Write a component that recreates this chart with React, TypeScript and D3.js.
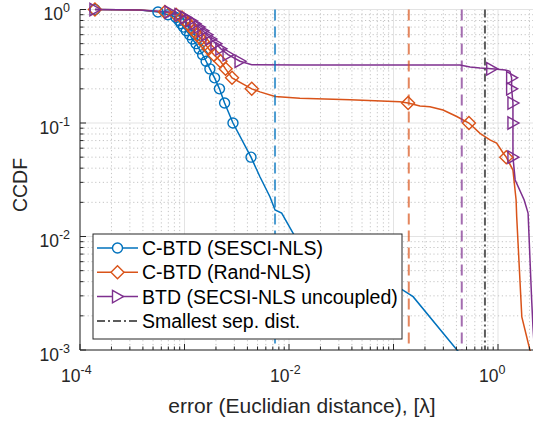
import React from "react";
import * as d3 from "d3";

// ---- data (x = error [lambda], y = CCDF) ----
const blueLine: [number, number][] = [
  [1.39e-4, 1], [3.75e-4, 0.99], [5.57e-4, 0.95], [6.95e-4, 0.9], [8.3e-4, 0.85],
  [8.86e-4, 0.8], [9.27e-4, 0.75], [9.77e-4, 0.7], [1.04e-3, 0.65], [1.12e-3, 0.6],
  [1.19e-3, 0.55], [1.29e-3, 0.5], [1.38e-3, 0.45], [1.49e-3, 0.4], [1.61e-3, 0.35],
  [1.75e-3, 0.3], [1.94e-3, 0.25], [2.16e-3, 0.2], [2.42e-3, 0.15], [2.91e-3, 0.1],
  [4.33e-3, 0.05], [5.27e-3, 0.0336], [6.57e-3, 0.0224], [7.35e-3, 0.0171],
  [8.51e-3, 0.0161], [0.0102, 0.012], [0.0127, 0.0084], [0.0247, 0.006],
  [0.0596, 0.0043], [0.121, 0.0034], [0.154, 0.00295], [0.405, 0.001], [0.45, 0.0009],
];
const blueMarks: [number, number][] = [
  [1.39e-4, 1], [5.57e-4, 0.95], [6.95e-4, 0.9], [8.3e-4, 0.85], [8.86e-4, 0.8],
  [9.27e-4, 0.75], [9.77e-4, 0.7], [1.04e-3, 0.65], [1.12e-3, 0.6], [1.19e-3, 0.55],
  [1.29e-3, 0.5], [1.38e-3, 0.45], [1.49e-3, 0.4], [1.61e-3, 0.35], [1.75e-3, 0.3],
  [1.94e-3, 0.25], [2.16e-3, 0.2], [2.42e-3, 0.15], [2.91e-3, 0.1], [4.33e-3, 0.05],
];

const orangeLine: [number, number][] = [
  [1.39e-4, 1], [3.75e-4, 0.99], [6.5e-4, 0.95], [8.3e-4, 0.9], [9.47e-4, 0.85],
  [1.02e-3, 0.8], [1.08e-3, 0.75], [1.15e-3, 0.7], [1.23e-3, 0.65], [1.33e-3, 0.6],
  [1.44e-3, 0.55], [1.57e-3, 0.5], [1.7e-3, 0.45], [1.91e-3, 0.4], [2.21e-3, 0.35],
  [2.47e-3, 0.3], [2.85e-3, 0.25], [4.4e-3, 0.2], [5.27e-3, 0.188], [7.35e-3, 0.171],
  [0.0127, 0.165], [0.0384, 0.16], [0.115, 0.154], [0.138, 0.15], [0.179, 0.141],
  [0.223, 0.139], [0.298, 0.13], [0.403, 0.114], [0.527, 0.1], [0.673, 0.081],
  [0.837, 0.071], [0.97, 0.0666], [1.12, 0.0544], [1.2, 0.05], [1.39, 0.0385],
  [1.49, 0.021], [1.51, 0.0149], [1.69, 0.00196], [2.02, 0.001], [2.1, 0.0009],
];
const orangeMarks: [number, number][] = [
  [1.39e-4, 1], [6.5e-4, 0.95], [8.3e-4, 0.9], [9.47e-4, 0.85], [1.02e-3, 0.8],
  [1.08e-3, 0.75], [1.15e-3, 0.7], [1.23e-3, 0.65], [1.33e-3, 0.6], [1.44e-3, 0.55],
  [1.57e-3, 0.5], [1.7e-3, 0.45], [1.91e-3, 0.4], [2.21e-3, 0.35], [2.47e-3, 0.3],
  [2.85e-3, 0.25], [4.4e-3, 0.2], [0.138, 0.15], [0.527, 0.1], [1.2, 0.05],
];

const purpleLine: [number, number][] = [
  [1.39e-4, 1], [3.75e-4, 0.99], [7.26e-4, 0.95], [9.05e-4, 0.9], [1.03e-3, 0.85],
  [1.15e-3, 0.8], [1.26e-3, 0.75], [1.38e-3, 0.7], [1.5e-3, 0.65], [1.64e-3, 0.6],
  [1.79e-3, 0.55], [2e-3, 0.5], [2.23e-3, 0.45], [2.61e-3, 0.4], [3.4e-3, 0.35],
  [4.4e-3, 0.326], [0.0127, 0.324], [0.433, 0.324], [0.54, 0.311], [0.673, 0.305],
  [0.871, 0.3], [1.17, 0.293], [1.3, 0.285], [1.35, 0.25], [1.35, 0.2], [1.39, 0.15],
  [1.39, 0.1], [1.39, 0.05], [1.46, 0.0315], [1.78, 0.021], [1.94, 0.0161],
  [2.1, 0.00276], [2.16, 0.0016], [2.25, 0.0009],
];
const purpleMarks: [number, number][] = [
  [1.39e-4, 1], [7.26e-4, 0.95], [9.05e-4, 0.9], [1.03e-3, 0.85], [1.15e-3, 0.8],
  [1.26e-3, 0.75], [1.38e-3, 0.7], [1.5e-3, 0.65], [1.64e-3, 0.6], [1.79e-3, 0.55],
  [2e-3, 0.5], [2.23e-3, 0.45], [2.61e-3, 0.4], [3.4e-3, 0.35], [0.871, 0.3],
  [1.35, 0.25], [1.35, 0.2], [1.39, 0.15], [1.39, 0.1], [1.39, 0.05],
];

// dashed verticals: 1e-3 CCDF crossing per method, and the smallest separation
const vlineX = [7.35e-3, 0.14, 0.45];
const vlineColor = ["#0072BD", "#D95319", "#7E2F8E"];
const smallestSep = 0.75;

const legendLabels = [
  "C-BTD (SESCI-NLS)",
  "C-BTD (Rand-NLS)",
  "BTD (SECSI-NLS uncoupled)",
  "Smallest sep. dist.",
];
const xTickExp = [-4, -2, 0];
const yTickExp = [-3, -2, -1, 0];

const FONT = "'Liberation Sans', Arial, Helvetica, sans-serif";
const INK = "#262626";

const circlePath = "M5,0A5,5 0 1,1 -5,0A5,5 0 1,1 5,0Z";
const diamondPath = "M0,-6.5L6.5,0L0,6.5L-6.5,0Z";
const trianglePath = "M-5,-6.2L6,0L-5,6.2Z";

const App = () => {
  const W = 533;
  const H = 423;
  const left = 80;
  const bottom = 350;

  const x = d3.scaleLog().domain([1e-4, Math.pow(10, 0.4)]).range([left, 539.8]);
  const y = d3.scaleLog().domain([1e-3, 1]).range([bottom, 9.5]);

  const isMajor = (v: number) => Math.abs(Math.log10(v) - Math.round(Math.log10(v))) < 1e-9;
  const xt = x.ticks();
  const yt = y.ticks();

  const line = d3
    .line<[number, number]>()
    .x((d) => x(d[0]))
    .y((d) => y(d[1]));

  const series = [
    { line: blueLine, marks: blueMarks, color: "#0072BD", shape: circlePath },
    { line: orangeLine, marks: orangeMarks, color: "#D95319", shape: diamondPath },
    { line: purpleLine, marks: purpleMarks, color: "#7E2F8E", shape: trianglePath },
  ];

  const lg = { x: 93, y: 234, w: 309, h: 105, row: 24.3 };

  return (
    <svg
      width={W}
      height={H}
      style={{ position: "absolute", left: 0, top: 0, background: "#fff" }}
      fontFamily={FONT}
    >
      <defs>
        <clipPath id="plotclip">
          <rect x={left} y={5} width={470} height={bottom - 5 + 1} />
        </clipPath>
      </defs>

      {/* grid */}
      <g>
        {xt.map((v, i) => (
          <line
            key={"gx" + i}
            x1={x(v)} x2={x(v)} y1={9.5} y2={bottom}
            stroke={isMajor(v) ? "#e3e3e3" : "#c4c4c4"}
            strokeWidth={1}
            strokeDasharray={isMajor(v) ? undefined : "1.2,2.6"}
          />
        ))}
        {yt.map((v, i) => (
          <line
            key={"gy" + i}
            x1={left} x2={W} y1={y(v)} y2={y(v)}
            stroke={isMajor(v) ? "#e3e3e3" : "#c4c4c4"}
            strokeWidth={1}
            strokeDasharray={isMajor(v) ? undefined : "1.2,2.6"}
          />
        ))}
      </g>

      {/* curves */}
      <g clipPath="url(#plotclip)">
        {series.map((s, i) => (
          <path key={"l" + i} d={line(s.line) || ""} fill="none" stroke={s.color} strokeWidth={1.5} />
        ))}
      </g>
      {series.map((s, i) => (
        <g key={"m" + i}>
          {s.marks.map((d, j) => (
            <path
              key={j}
              d={s.shape}
              transform={`translate(${x(d[0])},${y(d[1])})`}
              fill="none"
              stroke={s.color}
              strokeWidth={1.4}
            />
          ))}
        </g>
      ))}

      {/* vertical reference lines */}
      {vlineX.map((v, i) => (
        <line
          key={"v" + i}
          x1={x(v)} x2={x(v)} y1={9.5} y2={bottom}
          stroke={vlineColor[i]}
          strokeOpacity={0.7}
          strokeWidth={2}
          strokeDasharray="11,6"
        />
      ))}
      <line
        x1={x(smallestSep)} x2={x(smallestSep)} y1={9.5} y2={bottom}
        stroke="#404040"
        strokeOpacity={0.85}
        strokeWidth={2}
        strokeDasharray="8,3,2,3"
      />

      {/* axes */}
      <line x1={left} x2={left} y1={9.5} y2={bottom} stroke={INK} strokeWidth={1} />
      <line x1={left} x2={W} y1={bottom} y2={bottom} stroke={INK} strokeWidth={1} />
      {xt.map((v, i) => (
        <line
          key={"tx" + i}
          x1={x(v)} x2={x(v)} y1={bottom} y2={bottom - (isMajor(v) ? 6 : 3.5)}
          stroke={INK} strokeWidth={1}
        />
      ))}
      {yt.map((v, i) => (
        <line
          key={"ty" + i}
          x1={left} x2={left + (isMajor(v) ? 6 : 3.5)} y1={y(v)} y2={y(v)}
          stroke={INK} strokeWidth={1}
        />
      ))}

      {/* tick labels */}
      {xTickExp.map((e) => {
        const px = x(Math.pow(10, e));
        return (
          <g key={"xl" + e} fill={INK}>
            <text x={px + 0.5} y={382} fontSize={17.5} textAnchor="end">10</text>
            <text x={px + 0.5} y={374} fontSize={12.5}>{e}</text>
          </g>
        );
      })}
      {yTickExp.map((e) => {
        const py = y(Math.pow(10, e));
        return (
          <text key={"yl" + e} x={70} y={py + 10.5} fontSize={17.5} textAnchor="end" fill={INK}>
            10
            <tspan dy={-8} fontSize={12.5}>{e}</tspan>
          </text>
        );
      })}

      {/* axis labels */}
      <text x={302} y={413} fontSize={21} textAnchor="middle" fill={INK}>
        error (Euclidian distance), [λ]
      </text>
      <text transform="translate(27,185) rotate(-90)" fontSize={19.5} textAnchor="middle" fill={INK}>
        CCDF
      </text>

      {/* legend */}
      <g>
        <rect x={lg.x} y={lg.y} width={lg.w} height={lg.h} fill="#fff" stroke={INK} strokeWidth={1} />
        {legendLabels.map((t, i) => {
          const cy = lg.y + 14 + i * lg.row;
          const s = series[i];
          return (
            <g key={"lg" + i}>
              {s ? (
                <>
                  <line x1={97} x2={138} y1={cy} y2={cy} stroke={s.color} strokeWidth={1.5} />
                  <path d={s.shape} transform={`translate(117.5,${cy})`} fill="#fff" stroke={s.color} strokeWidth={1.4} />
                </>
              ) : (
                <line
                  x1={97} x2={138} y1={cy} y2={cy}
                  stroke="#404040" strokeOpacity={0.85} strokeWidth={2} strokeDasharray="8,3,2,3"
                />
              )}
              <text x={142} y={cy + 7} fontSize={19.5} fill="#000">{t}</text>
            </g>
          );
        })}
      </g>
    </svg>
  );
};

export default App;
